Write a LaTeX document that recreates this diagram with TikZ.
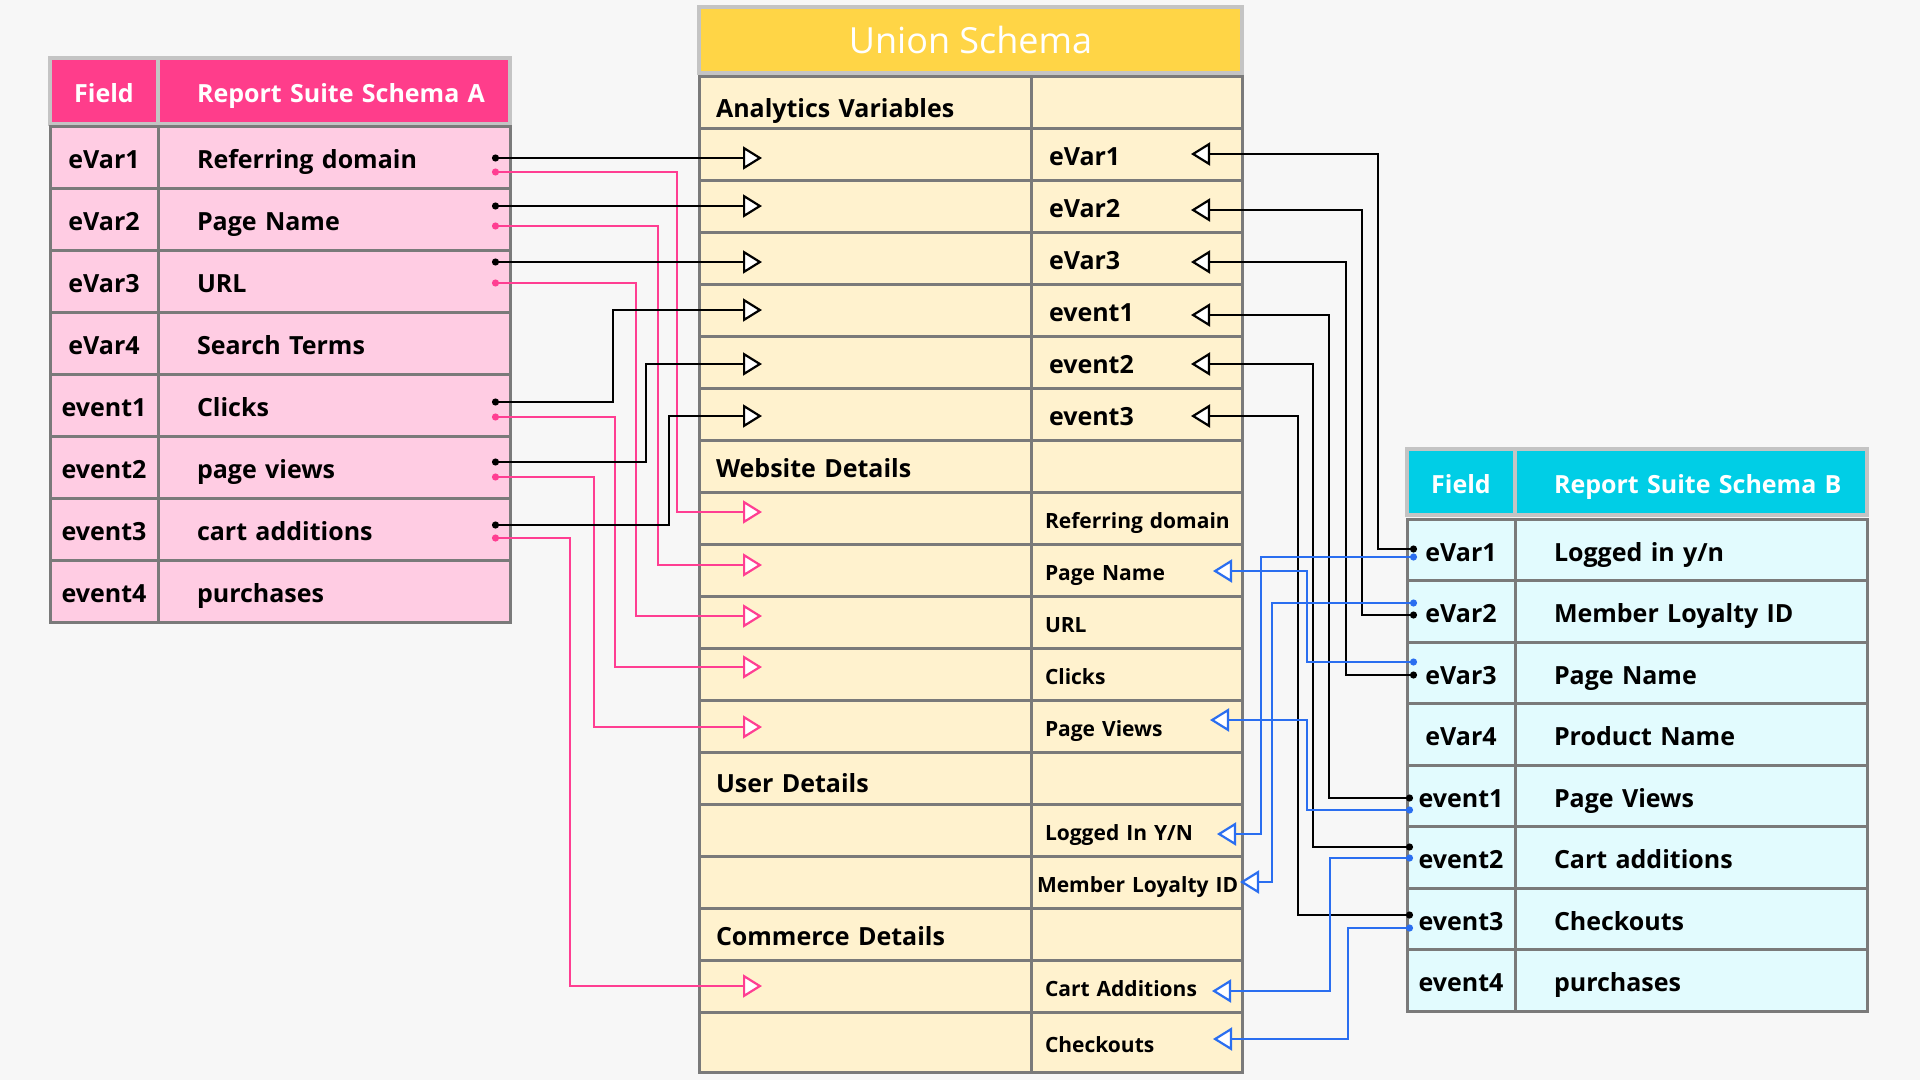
\documentclass[tikz,border=0pt]{standalone}
\usepackage{fontspec}
\setmainfont{Open Sans}
\usetikzlibrary{arrows.meta}

\definecolor{bgc}{RGB}{247,247,247}
\definecolor{grid}{RGB}{122,122,122}
\definecolor{sep}{RGB}{196,196,196}
\definecolor{pinkH}{RGB}{255,61,139}
\definecolor{pinkR}{RGB}{255,204,227}
\definecolor{cyanH}{RGB}{0,206,230}
\definecolor{cyanR}{RGB}{226,251,254}
\definecolor{yelH}{RGB}{255,213,70}
\definecolor{yelR}{RGB}{255,242,206}
\definecolor{pinkL}{RGB}{255,62,146}
\definecolor{blueL}{RGB}{42,110,240}

\newcommand{\cellfont}{\fontsize{25}{30}\selectfont\bfseries}
\newcommand{\lblfont}{\fontsize{21}{25}\selectfont\bfseries}
\newcommand{\ttlfont}{\fontsize{36}{42}\selectfont}

\tikzset{
  oneline/.style={execute at begin node=\hbox\bgroup, execute at end node=\egroup},
  tcell/.style={draw=grid, line width=3pt, inner ysep=0pt, text height=22pt, text depth=0pt, font=\cellfont},
  hcell/.style={draw=sep, line width=4pt, inner ysep=0pt, text height=22pt, text depth=0pt, minimum height=66pt, text=white, font=\cellfont},
  wide/.style={oneline, text width=274pt, align=left, inner xsep=39pt, minimum width=352pt},
  acell/.style={tcell, fill=pinkR, minimum height=62pt},
  bcell/.style={tcell, fill=cyanR, minimum height=61.5pt},
  ucell/.style={tcell, fill=yelR, minimum height=52pt},
  uleft/.style={ucell, oneline, text width=298pt, align=left, inner xsep=17pt, minimum width=332pt},
  uright/.style={ucell, oneline, text width=175pt, align=left, inner xsep=18pt, minimum width=211pt},
  usmall/.style={uright, font=\lblfont, text height=20pt, inner xsep=14pt, text width=183pt},
  tip/.style={arrows={Circle[length=7pt]-Triangle[length=19pt,width=23pt,fill=white]}},
  blk/.style={tip, draw=black, line width=2.2pt},
  pnk/.style={tip, draw=pinkL, line width=2.2pt},
  blu/.style={tip, draw=blueL, line width=2.2pt}
}

\begin{document}
\begin{tikzpicture}[x=1pt, y=-1pt]
  \useasboundingbox[fill=bgc] (0,0) rectangle (1920,1080);

  % report suite A
  \node[hcell, fill=pinkH, minimum width=108pt] (ah1) at (104,91) {Field};
  \node[hcell, wide, fill=pinkH] (ah2) at (334,91) {Report Suite Schema A};
  \node[acell, minimum width=108pt] (af1) at (104,157) {eVar1};
  \node[acell, wide] (an1) at (334,157) {Referring domain};
  \node[acell, minimum width=108pt] (af2) at (104,219) {eVar2};
  \node[acell, wide] (an2) at (334,219) {Page Name};
  \node[acell, minimum width=108pt] (af3) at (104,281) {eVar3};
  \node[acell, wide] (an3) at (334,281) {URL};
  \node[acell, minimum width=108pt] (af4) at (104,343) {eVar4};
  \node[acell, wide] (an4) at (334,343) {Search Terms};
  \node[acell, minimum width=108pt] (af5) at (104,405) {event1};
  \node[acell, wide] (an5) at (334,405) {Clicks};
  \node[acell, minimum width=108pt] (af6) at (104,467) {event2};
  \node[acell, wide] (an6) at (334,467) {page views};
  \node[acell, minimum width=108pt] (af7) at (104,529) {event3};
  \node[acell, wide] (an7) at (334,529) {cart additions};
  \node[acell, minimum width=108pt] (af8) at (104,591) {event4};
  \node[acell, wide] (an8) at (334,591) {purchases};

  % union schema
  \node[hcell, fill=yelH, minimum width=543pt, minimum height=66pt, font=\ttlfont, text height=26pt] (uh) at (970.5,40) {Union Schema};
  \node[uleft, text height=30pt] (ul1) at (865,102) {Analytics Variables};
  \node[uright] (ur1) at (1136.5,102) {};
  \node[uleft] (ul2) at (865,154) {};
  \node[uright] (ur2) at (1136.5,154) {eVar1};
  \node[uleft] (ul3) at (865,206) {};
  \node[uright] (ur3) at (1136.5,206) {eVar2};
  \node[uleft] (ul4) at (865,258) {};
  \node[uright] (ur4) at (1136.5,258) {eVar3};
  \node[uleft] (ul5) at (865,310) {};
  \node[uright] (ur5) at (1136.5,310) {event1};
  \node[uleft] (ul6) at (865,362) {};
  \node[uright] (ur6) at (1136.5,362) {event2};
  \node[uleft] (ul7) at (865,414) {};
  \node[uright] (ur7) at (1136.5,414) {event3};
  \node[uleft] (ul8) at (865,466) {Website Details};
  \node[uright] (ur8) at (1136.5,466) {};
  \node[uleft] (ul9) at (865,518) {};
  \node[usmall] (ur9) at (1136.5,518) {Referring domain};
  \node[uleft] (ul10) at (865,570) {};
  \node[usmall] (ur10) at (1136.5,570) {Page Name};
  \node[uleft] (ul11) at (865,622) {};
  \node[usmall] (ur11) at (1136.5,622) {URL};
  \node[uleft] (ul12) at (865,674) {};
  \node[usmall] (ur12) at (1136.5,674) {Clicks};
  \node[uleft] (ul13) at (865,726) {};
  \node[usmall] (ur13) at (1136.5,726) {Page Views};
  \node[uleft, text height=28pt] (ul14) at (865,778) {User Details};
  \node[uright] (ur14) at (1136.5,778) {};
  \node[uleft] (ul15) at (865,830) {};
  \node[usmall] (ur15) at (1136.5,830) {Logged In Y/N};
  \node[uleft] (ul16) at (865,882) {};
  \node[usmall, inner xsep=6pt, text width=199pt] (ur16) at (1136.5,882) {Member Loyalty ID};
  \node[uleft] (ul17) at (865,934) {Commerce Details};
  \node[uright] (ur17) at (1136.5,934) {};
  \node[uleft] (ul18) at (865,986) {};
  \node[usmall] (ur18) at (1136.5,986) {Cart Additions};
  \node[uleft, minimum height=60pt] (ul19) at (865,1042) {};
  \node[usmall, minimum height=60pt] (ur19) at (1136.5,1042) {Checkouts};

  % report suite B
  \node[hcell, fill=cyanH, minimum width=108pt] (bh1) at (1461,482) {Field};
  \node[hcell, wide, fill=cyanH] (bh2) at (1691,482) {Report Suite Schema B};
  \node[bcell, minimum width=108pt] (bf1) at (1461,550) {eVar1};
  \node[bcell, wide] (bn1) at (1691,550) {Logged in y/n};
  \node[bcell, minimum width=108pt] (bf2) at (1461,611.5) {eVar2};
  \node[bcell, wide] (bn2) at (1691,611.5) {Member Loyalty ID};
  \node[bcell, minimum width=108pt] (bf3) at (1461,673) {eVar3};
  \node[bcell, wide] (bn3) at (1691,673) {Page Name};
  \node[bcell, minimum width=108pt] (bf4) at (1461,734.5) {eVar4};
  \node[bcell, wide] (bn4) at (1691,734.5) {Product Name};
  \node[bcell, minimum width=108pt] (bf5) at (1461,796) {event1};
  \node[bcell, wide] (bn5) at (1691,796) {Page Views};
  \node[bcell, minimum width=108pt] (bf6) at (1461,857.5) {event2};
  \node[bcell, wide] (bn6) at (1691,857.5) {Cart additions};
  \node[bcell, minimum width=108pt] (bf7) at (1461,919) {event3};
  \node[bcell, wide] (bn7) at (1691,919) {Checkouts};
  \node[bcell, minimum width=108pt] (bf8) at (1461,980.5) {event4};
  \node[bcell, wide] (bn8) at (1691,980.5) {purchases};

  % connector ends
  \coordinate (ak1) at (492,158);
  \coordinate (ap1) at (492,172);
  \coordinate (ak2) at (492,206);
  \coordinate (ap2) at (492,226);
  \coordinate (ak3) at (492,262);
  \coordinate (ap3) at (492,283);
  \coordinate (ak5) at (492,402);
  \coordinate (ap5) at (492,417);
  \coordinate (ak6) at (492,462);
  \coordinate (ap6) at (492,477);
  \coordinate (ak7) at (492,525);
  \coordinate (ap7) at (492,538);

  \coordinate (bk1) at (1417,549);
  \coordinate (bb1) at (1417,557);
  \coordinate (bb2) at (1417,603);
  \coordinate (bk2) at (1417,615);
  \coordinate (bb3) at (1417,662);
  \coordinate (bk3) at (1417,675);
  \coordinate (bk5) at (1413,798);
  \coordinate (bb5) at (1413,810);
  \coordinate (bk6) at (1413,847);
  \coordinate (bb6) at (1413,858);
  \coordinate (bk7) at (1413,915);
  \coordinate (bb7) at (1413,928);

  \coordinate (ua2) at (762,158);
  \coordinate (ua3) at (762,206);
  \coordinate (ua4) at (762,262);
  \coordinate (ua5) at (762,310);
  \coordinate (ua6) at (762,364);
  \coordinate (ua7) at (762,416);
  \coordinate (ua9) at (762,512);
  \coordinate (ua10) at (762,565);
  \coordinate (ua11) at (762,616);
  \coordinate (ua12) at (762,667);
  \coordinate (ua13) at (762,727);
  \coordinate (ua18) at (762,986);

  \coordinate (ub2) at (1191,154);
  \coordinate (ub3) at (1191,210);
  \coordinate (ub4) at (1191,262);
  \coordinate (ub5) at (1191,315);
  \coordinate (ub6) at (1191,364);
  \coordinate (ub7) at (1191,416);
  \coordinate (ub10) at (1213,571);
  \coordinate (ub13) at (1210,720);
  \coordinate (ub15) at (1217,834);
  \coordinate (ub16) at (1240,882);
  \coordinate (ub18) at (1212,991);
  \coordinate (ub19) at (1213,1039);

  % A to union
  \draw[pnk] (ap1) -- ++(185,0) |- (ua9);
  \draw[pnk] (ap2) -- ++(166,0) |- (ua10);
  \draw[pnk] (ap3) -- ++(144,0) |- (ua11);
  \draw[pnk] (ap5) -- ++(123,0) |- (ua12);
  \draw[pnk] (ap6) -- ++(102,0) |- (ua13);
  \draw[pnk] (ap7) -- ++(78,0) |- (ua18);
  \draw[blk] (ak1) -- (ua2);
  \draw[blk] (ak2) -- (ua3);
  \draw[blk] (ak3) -- (ua4);
  \draw[blk] (ak5) -- ++(121,0) |- (ua5);
  \draw[blk] (ak6) -- ++(154,0) |- (ua6);
  \draw[blk] (ak7) -- ++(177,0) |- (ua7);

  % B to union
  \draw[blk] (bk1) -- ++(-39,0) |- (ub2);
  \draw[blk] (bk2) -- ++(-55,0) |- (ub3);
  \draw[blk] (bk3) -- ++(-71,0) |- (ub4);
  \draw[blk] (bk5) -- ++(-84,0) |- (ub5);
  \draw[blk] (bk6) -- ++(-100,0) |- (ub6);
  \draw[blk] (bk7) -- ++(-115,0) |- (ub7);
  \draw[blu] (bb1) -- ++(-156,0) |- (ub15);
  \draw[blu] (bb2) -- ++(-145,0) |- (ub16);
  \draw[blu] (bb3) -- ++(-110,0) |- (ub10);
  \draw[blu] (bb5) -- ++(-106,0) |- (ub13);
  \draw[blu] (bb6) -- ++(-83,0) |- (ub18);
  \draw[blu] (bb7) -- ++(-65,0) |- (ub19);
\end{tikzpicture}
\end{document}
